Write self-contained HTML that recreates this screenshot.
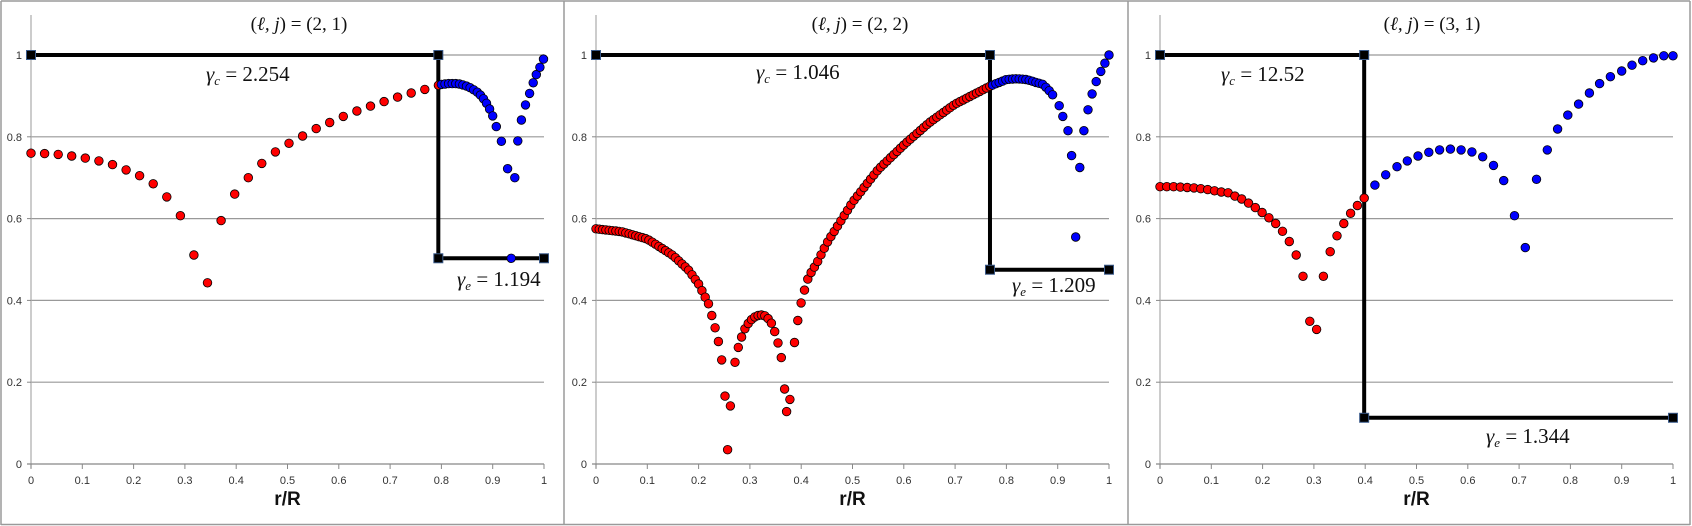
<!DOCTYPE html>
<html><head><meta charset="utf-8"><style>
html,body{margin:0;padding:0;background:#fff;}
svg{display:block;}
.t{font-family:"Liberation Sans",sans-serif;font-size:11px;fill:#333;}
.m{font-family:"Liberation Serif",serif;font-size:21px;fill:#111;}
.ti{font-family:"Liberation Serif",serif;font-size:19px;fill:#111;}
.ax{font-family:"Liberation Sans",sans-serif;font-size:19px;font-weight:bold;fill:#111;}
</style></head><body>
<svg id="s" width="1692" height="526" viewBox="0 0 1692 526" xmlns="http://www.w3.org/2000/svg">
<rect x="0" y="0" width="1692" height="526" fill="#fff"/>
<g stroke="#9a9a9a" stroke-width="1.5" fill="none">
<line x1="1" y1="1" x2="1690" y2="1"/><line x1="1" y1="524.5" x2="1690" y2="524.5"/>
<line x1="1" y1="1" x2="1" y2="525"/><line x1="564" y1="1" x2="564" y2="525"/>
<line x1="1128" y1="1" x2="1128" y2="525"/><line x1="1690" y1="1" x2="1690" y2="525"/>
</g>
<g id="g"></g>
<text class="ti" x="299" y="30" text-anchor="middle">(<tspan font-style="italic">ℓ, j</tspan>) = (2, 1)</text>
<text class="ti" x="860" y="30" text-anchor="middle">(<tspan font-style="italic">ℓ, j</tspan>) = (2, 2)</text>
<text class="ti" x="1432" y="30" text-anchor="middle">(<tspan font-style="italic">ℓ, j</tspan>) = (3, 1)</text>
<text class="m" x="206" y="81"><tspan font-style="italic">γ</tspan><tspan font-style="italic" font-size="13" dy="4">c</tspan><tspan dy="-4"> = 2.254</tspan></text>
<text class="m" x="457" y="286"><tspan font-style="italic">γ</tspan><tspan font-style="italic" font-size="13" dy="4">e</tspan><tspan dy="-4"> = 1.194</tspan></text>
<text class="m" x="756" y="79"><tspan font-style="italic">γ</tspan><tspan font-style="italic" font-size="13" dy="4">c</tspan><tspan dy="-4"> = 1.046</tspan></text>
<text class="m" x="1012" y="292"><tspan font-style="italic">γ</tspan><tspan font-style="italic" font-size="13" dy="4">e</tspan><tspan dy="-4"> = 1.209</tspan></text>
<text class="m" x="1221" y="81"><tspan font-style="italic">γ</tspan><tspan font-style="italic" font-size="13" dy="4">c</tspan><tspan dy="-4"> = 12.52</tspan></text>
<text class="m" x="1486" y="443"><tspan font-style="italic">γ</tspan><tspan font-style="italic" font-size="13" dy="4">e</tspan><tspan dy="-4"> = 1.344</tspan></text>
</svg>
<script>
(function(){
var NS="http://www.w3.org/2000/svg",g=document.getElementById("g");
var Y0=464,S=409,W=513,X0=[31,596,1160];
function el(n,a,txt){var e=document.createElementNS(NS,n);for(var k in a)e.setAttribute(k,a[k]);if(txt!=null)e.textContent=txt;g.appendChild(e);return e;}
function interp(A,x){for(var i=0;i<A.length-1;i++){if(x<=A[i+1][0]){var t=(x-A[i][0])/(A[i+1][0]-A[i][0]);return A[i][1]+t*(A[i+1][1]-A[i][1]);}}return A[A.length-1][1];}
var panels=[{step:0.794,low:0.503},{step:0.768,low:0.475},{step:0.398,low:0.113}];
var D=[[],[],[]];
var r1=[.76,.759,.757,.753,.748,.741,.732,.719,.705,.685,.653,.607,.511,.443,.595,.66,.70,.735,.763,.784,.802,.82,.835,.85,.863,.875,.886,.897,.907,.916,.926];
for(var k=0;k<r1.length;k++)D[0].push([k*0.02647,r1[k],'r']);
var b1=[[.80,.928],[.807,.929],[.814,.93],[.821,.93],[.828,.93],[.835,.929],[.842,.927],[.849,.924],[.856,.92],[.863,.915],[.87,.909],[.876,.902],[.882,.893],[.888,.882],[.894,.868],[.9,.851],[.907,.825],[.917,.789],[.929,.722],[.943,.70],[.936,.503],[.949,.79],[.956,.841],[.964,.878],[.972,.906],[.979,.932],[.985,.952],[.992,.97],[.999,.99]];
b1.forEach(function(p){D[0].push([p[0],p[1],'b']);});
var A2=[[0,.575],[.05,.568],[.1,.55],[.15,.51],[.18,.475],[.2,.44],[.22,.39],[.235,.32],[.243,.275],[.25,.207],[.2565,.035],[.262,.142],[.268,.23],[.275,.275],[.282,.305],[.29,.33],[.3,.35],[.31,.36],[.32,.365],[.33,.362],[.34,.35],[.348,.325],[.355,.295],[.363,.25],[.3715,.128],[.378,.158],[.385,.28],[.392,.34],[.398,.385],[.405,.418],[.41,.445],[.42,.47],[.43,.49],[.45,.54],[.5,.64],[.55,.72],[.6,.78],[.65,.835],[.7,.88],[.77,.925]];
var xs=[];for(var x=0;x<=0.7701;x+=0.00645)xs.push(x);
// snap grid points near dips to reference positions
var snaps=[.2565,.262,.3715,.378];
xs=xs.map(function(x){for(var i=0;i<snaps.length;i++)if(Math.abs(x-snaps[i])<0.0033)return snaps[i];return x;});
xs.forEach(function(x){D[1].push([x,interp(A2,x),'r']);});
var B2=[[.77,.925],[.8,.94],[.82,.942],[.84,.94],[.86,.932],[.87,.929],[.878,.92],[.887,.908],[.895,.894]];
for(var x=0.773;x<=0.896;x+=0.0065)D[1].push([x,interp(B2,x),'b']);
[[.903,.876],[.91,.85],[.92,.815],[.927,.754],[.943,.725],[.935,.555],[.951,.815],[.959,.866],[.967,.905],[.975,.935],[.984,.96],[.992,.98],[1.0,1.0]].forEach(function(p){D[1].push([p[0],p[1],'b']);});
var r3=[.678,.678,.678,.677,.676,.675,.673,.671,.668,.665,.663,.655,.648,.638,.627,.615,.602,.588,.569,.544,.511,.459,.349,.329,.459,.519,.558,.588,.613,.632,.65];
for(var k=0;k<r3.length;k++)D[2].push([k*0.01327,r3[k],'r']);
[[.419,.682],[.44,.707],[.462,.727],[.482,.741],[.503,.753],[.524,.762],[.545,.768],[.566,.77],[.587,.768],[.608,.763],[.629,.751],[.65,.73],[.67,.693],[.691,.607],[.712,.529],[.734,.696],[.755,.768],[.775,.819],[.795,.853],[.816,.88],[.837,.907],[.857,.93],[.878,.947],[.9,.961],[.92,.975],[.941,.986],[.962,.993],[.982,.998],[1.0,.998]].forEach(function(p){D[2].push([p[0],p[1],'b']);});

for(var p=0;p<3;p++){
 var x0=X0[p],px=function(v){return x0+v*W;},py=function(v){return Y0-v*S;};
 for(var i=1;i<=5;i++){var y=py(i*0.2);el('line',{x1:x0,y1:y,x2:x0+W,y2:y,stroke:'#999','stroke-width':1.2});}
 el('line',{x1:x0,y1:15,x2:x0,y2:Y0+4,stroke:'#aaa','stroke-width':1.2});
 el('line',{x1:x0-4,y1:Y0,x2:x0+W,y2:Y0,stroke:'#888','stroke-width':1.2});
 var yl=['0','0.2','0.4','0.6','0.8','1'];
 for(var i=0;i<6;i++){el('line',{x1:x0-4,y1:py(i*0.2),x2:x0,y2:py(i*0.2),stroke:'#888'});el('text',{class:'t',x:x0-9,y:py(i*0.2)+4,'text-anchor':'end'},yl[i]);}
 var xl=['0','0.1','0.2','0.3','0.4','0.5','0.6','0.7','0.8','0.9','1'];
 for(var i=0;i<=10;i++){var xx=px(i/10);el('line',{x1:xx,y1:Y0,x2:xx,y2:Y0+5,stroke:'#888'});el('text',{class:'t',x:xx,y:Y0+20,'text-anchor':'middle'},xl[i]);}
 el('text',{class:'ax',x:x0+W/2,y:505,'text-anchor':'middle'},'r/R');
 var P=panels[p],sx=px(P.step),ly=py(P.low),ty=py(1);
 el('polyline',{points:px(0)+','+ty+' '+sx+','+ty+' '+sx+','+ly+' '+px(1)+','+ly,fill:'none',stroke:'#000','stroke-width':4,'stroke-linejoin':'miter'});
 D[p].forEach(function(d){el('circle',{cx:px(d[0]).toFixed(1),cy:py(d[1]).toFixed(1),r:4.3,fill:d[2]=='r'?'#f00':'#00f',stroke:'#000','stroke-width':0.8});});
 [[0,1],[P.step,1],[P.step,P.low],[1,P.low]].forEach(function(q){el('rect',{x:px(q[0])-4.5,y:py(q[1])-4.5,width:9,height:9,fill:'#000',stroke:'#3a5a8a','stroke-width':1});});
}
})();
</script>
</body></html>
